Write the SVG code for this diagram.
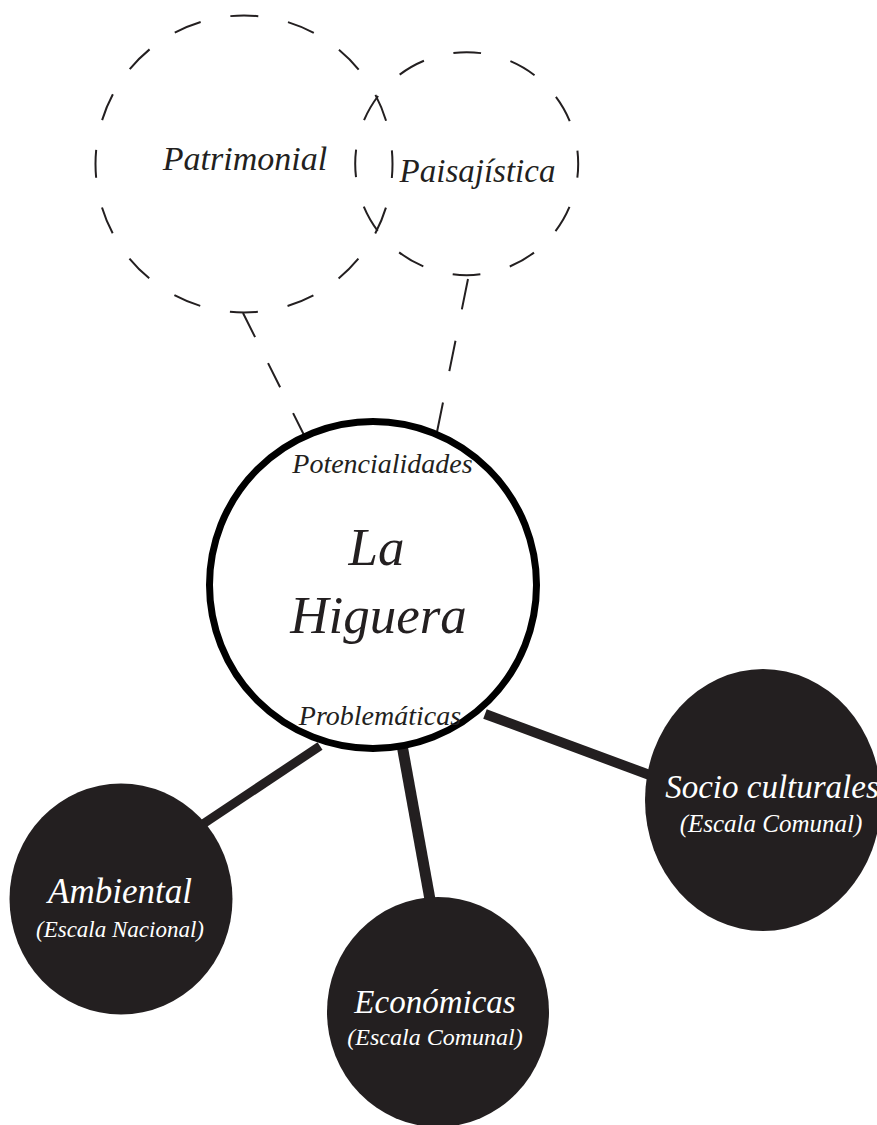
<svg xmlns="http://www.w3.org/2000/svg" width="877" height="1125" viewBox="0 0 877 1125">
<style>
.dash{fill:none;stroke:#231f20;stroke-width:2}
.link{stroke:#231f20;stroke-linecap:butt;fill:none}
.t{font-family:"Liberation Serif","Times New Roman",serif;font-style:italic;text-anchor:middle}
.dk{fill:#231f20}
.w{fill:#ffffff}
</style>
<rect width="877" height="1125" fill="#ffffff"/>
<g id="connectors">
  <line class="dash" x1="243" y1="313" x2="305" y2="437" stroke-dasharray="27 29"/>
  <line class="dash" x1="468" y1="279" x2="437" y2="432" stroke-dasharray="31 32"/>
  <line class="link" x1="320" y1="746" x2="200" y2="826" stroke-width="9"/>
  <line class="link" x1="402" y1="745" x2="431" y2="905" stroke-width="11"/>
  <line class="link" x1="485" y1="714" x2="655" y2="777" stroke-width="10"/>
</g>
<g id="node-patrimonial">
  <circle class="dash" cx="244" cy="164" r="148.5" stroke-dasharray="28 30.32" stroke-dashoffset="14"/>
  <text class="t dk" x="245" y="170" font-size="34">Patrimonial</text>
</g>
<g id="node-paisajistica">
  <circle class="dash" cx="466.7" cy="163.7" r="111.5" stroke-dasharray="28 30.38" stroke-dashoffset="14"/>
  <text class="t dk" x="477.5" y="182" font-size="33">Paisajística</text>
</g>
<g id="node-la-higuera">
  <circle cx="373" cy="585" r="163.5" fill="#ffffff" stroke="#000000" stroke-width="7"/>
  <text class="t dk" x="382.5" y="473" font-size="28">Potencialidades</text>
  <text class="t dk" x="376.5" y="565" font-size="53">La</text>
  <text class="t dk" x="378.5" y="633" font-size="53">Higuera</text>
  <text class="t dk" x="380" y="725" font-size="28">Problemáticas</text>
</g>
<g id="node-ambiental">
  <ellipse class="dk" cx="121" cy="899" rx="111.5" ry="115.5"/>
  <text class="t w" x="120" y="903" font-size="35">Ambiental</text>
  <text class="t w" x="120" y="937" font-size="23">(Escala Nacional)</text>
</g>
<g id="node-economicas">
  <ellipse class="dk" cx="438" cy="1012" rx="111" ry="115"/>
  <text class="t w" x="435" y="1013" font-size="33">Económicas</text>
  <text class="t w" x="435" y="1045" font-size="24">(Escala Comunal)</text>
</g>
<g id="node-socio-culturales">
  <ellipse class="dk" cx="763" cy="800" rx="118" ry="131"/>
  <text class="t w" x="772" y="798" font-size="33">Socio culturales</text>
  <text class="t w" x="771" y="832" font-size="25">(Escala Comunal)</text>
</g>
</svg>
